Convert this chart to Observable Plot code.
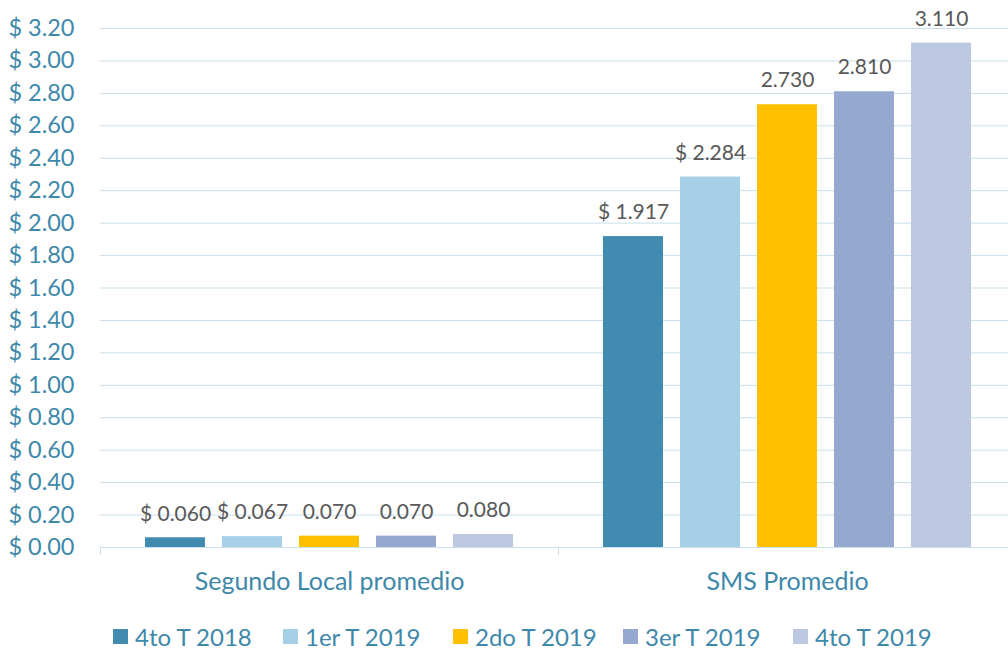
<!DOCTYPE html>
<html><head><meta charset="utf-8">
<script src="https://cdn.jsdelivr.net/npm/d3@7"></script>
<script src="https://cdn.jsdelivr.net/npm/@observablehq/plot@0.6"></script>
<style>
html,body{margin:0;background:#fff;font-family:Lato,sans-serif;overflow:hidden;}
#chart{width:1016px;}
#legend{padding-left:113px;}
#legend .lg-swatches{min-height:33px;font-size:24px !important;font-family:Lato,sans-serif !important;color:#3E88AA !important;}
#legend .lg-swatch{width:170px;margin-right:0 !important;font-size:24px !important;}
#legend .lg-swatch > svg{margin-right:7px !important;}
</style></head><body><div id="chart"></div><div id="legend"></div><script>
const groups = ["Segundo Local promedio", "SMS Promedio"];
const periods = ["4to T 2018", "1er T 2019", "2do T 2019", "3er T 2019", "4to T 2019"];
const segundoLocal = [0.060, 0.067, 0.070, 0.070, 0.080];
const smsPromedio = [1.917, 2.284, 2.730, 2.810, 3.110];
const segundoLabels = ["$ 0.060", "$ 0.067", "0.070", "0.070", "0.080"];
const smsLabels = ["$ 1.917", "$ 2.284", "2.730", "2.810", "3.110"];
const colors = ["#418AB0", "#A6CFE8", "#FFC000", "#95A9D0", "#BCC8E2"];
const yTicks = [0, 0.2, 0.4, 0.6, 0.8, 1.0, 1.2, 1.4, 1.6, 1.8, 2.0, 2.2, 2.4, 2.6, 2.8, 3.0, 3.2];

const data = [];
periods.forEach((p, i) => data.push({group: groups[0], period: p, value: segundoLocal[i], label: segundoLabels[i]}));
periods.forEach((p, i) => data.push({group: groups[1], period: p, value: smsPromedio[i], label: smsLabels[i]}));

const W = 1016, H = 620, mL = 100, mR = 0, mT = 28, mB = 73;
const fxBand = (W - mL - mR) / groups.length;
const teal = "#3E88AA", grid = "#C9DFEB";

const plot = Plot.plot({
  width: W, height: H, marginLeft: mL, marginRight: mR, marginTop: mT, marginBottom: mB,
  style: {fontFamily: "Lato, sans-serif", background: "#fff"},
  fx: {domain: groups, padding: 0, label: null, axis: null},
  x: {domain: periods, paddingInner: 0.22, paddingOuter: 0.584, axis: null},
  y: {domain: [0, 3.2], axis: null, label: null},
  color: {domain: periods, range: colors},
  marks: [
    Plot.gridY(yTicks, {stroke: grid, strokeOpacity: 1}),
    Plot.axisY(yTicks, {anchor: "left", label: null, tickSize: 0, tickPadding: 26, tickFormat: d => "$ " + d.toFixed(2), fontSize: 23.5, color: teal}),
    Plot.axisFx({anchor: "bottom", tickSize: 0, tickPadding: 25, fontSize: 25, color: teal, label: null}),
    Plot.axisFx({anchor: "bottom", tickSize: 8, text: null, stroke: grid, strokeOpacity: 1, dx: -fxBand / 2, label: null}),
    Plot.barY(data, {fx: "group", x: "period", y: "value", fill: "period"}),
    Plot.ruleY([0], {stroke: grid}),
    Plot.text(data, {fx: "group", x: "period", y: "value", text: "label", dy: -24, fontSize: 21, fill: "#595959"})
  ]
});
document.getElementById("chart").appendChild(plot);

const legend = Plot.legend({
  color: {domain: periods, range: colors},
  legend: "swatches",
  swatchSize: 15,
  className: "lg",
  style: {fontSize: "24px", color: teal, fontFamily: "Lato, sans-serif"}
});
document.getElementById("legend").appendChild(legend);
</script></body></html>
